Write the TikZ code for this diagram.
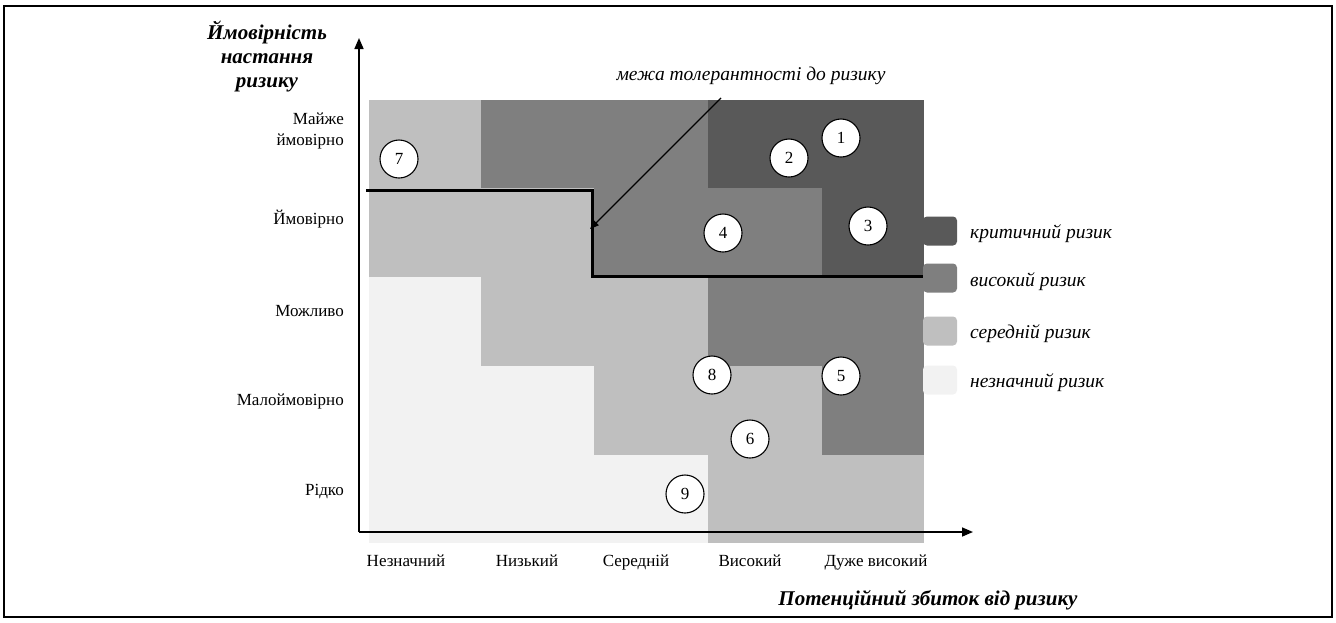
\documentclass[tikz,border=0pt]{standalone}
\usepackage{fontspec}
\setmainfont{Liberation Serif}
\usetikzlibrary{arrows.meta}
\definecolor{crit}{HTML}{595959}
\definecolor{high}{HTML}{7F7F7F}
\definecolor{med}{HTML}{BFBFBF}
\definecolor{low}{HTML}{F2F2F2}
\tikzset{
  num/.style={circle,draw=black,fill=white,line width=1.1pt,minimum size=38pt,inner sep=0pt,font=\fontsize{17}{20}\selectfont},
  lbl/.style={font=\fontsize{17}{20}\selectfont,inner sep=0pt,anchor=base},
  ylbl/.style={font=\fontsize{17}{21}\selectfont,inner sep=0pt,anchor=east,align=right},
  leg/.style={font=\itshape\fontsize{19.5}{22}\selectfont,inner sep=0pt,anchor=west},
  legbox/.style={rounded corners=4pt,draw=none,minimum width=34pt,minimum height=29pt,inner sep=0pt},
  axtitle/.style={font=\bfseries\itshape\fontsize{21}{24}\selectfont,inner sep=0pt,align=center},
  axis/.style={line width=1.6pt,-{Triangle[length=11pt,width=9pt]}},
  tol/.style={line width=3pt},
}
\begin{document}
\begin{tikzpicture}[x=1pt,y=-1pt]
\useasboundingbox (0,0) rectangle (1336,622);
\draw[line width=2pt] (4,6) rectangle (1332,617);
% grid cells
\def\cell#1#2#3#4#5{\fill[#5] (#1,#2) rectangle (#3,#4);}
% row 1
\cell{369}{100}{481}{188}{med}
\cell{481}{100}{708}{188}{high}
\cell{708}{100}{924}{188}{crit}
% row 2
\cell{369}{188}{594}{277}{med}
\cell{594}{188}{822}{277}{high}
\cell{822}{188}{924}{277}{crit}
% row 3
\cell{369}{277}{481}{366}{low}
\cell{481}{277}{708}{366}{med}
\cell{708}{277}{924}{366}{high}
% row 4
\cell{369}{366}{594}{455}{low}
\cell{594}{366}{822}{455}{med}
\cell{822}{366}{924}{455}{high}
% row 5
\cell{369}{455}{708}{543}{low}
\cell{708}{455}{924}{543}{med}
% axes
\coordinate (O) at (359,532);
\coordinate (ytip) at (359,38);
\coordinate (xtip) at (973,532);
\draw[axis] (O) -- (ytip);
\draw[axis] (O) -- (xtip);
% tolerance line
\coordinate (t1) at (366,190);
\coordinate (t2) at (592,190);
\coordinate (t3) at (592,276);
\coordinate (t4) at (923,276);
\draw[tol] (t1) -- (t2) -- (t3) -- (t4);
% tolerance label and arrow
\node[font=\itshape\fontsize{19.5}{22}\selectfont,inner sep=0pt] (tl) at (751,76) {межа толерантності до ризику};
\coordinate (as) at (721,98);
\coordinate (ae) at (590,229);
\draw[line width=1.2pt,-{Triangle[length=9pt,width=7pt]}] (as) -- (ae);
% circles
\node[num] (c1) at (841,138) {1};
\node[num] (c2) at (789,158) {2};
\node[num] (c3) at (868,226) {3};
\node[num] (c4) at (723,233) {4};
\node[num] (c5) at (841,376) {5};
\node[num] (c6) at (750,439) {6};
\node[num] (c7) at (399,159) {7};
\node[num] (c8) at (712,375) {8};
\node[num] (c9) at (685,494) {9};
% y labels
\node[ylbl] (y1) at (344,131) {Майже\\ймовірно};
\node[ylbl] (y2) at (344,219) {Ймовірно};
\node[ylbl] (y3) at (344,311) {Можливо};
\node[ylbl] (y4) at (344,401) {Малоймовірно};
\node[ylbl] (y5) at (344,492) {Рідко};
% x labels
\node[lbl] (x1) at (406,566) {Незначний};
\node[lbl] (x2) at (527,566) {Низький};
\node[lbl] (x3) at (636,566) {Середній};
\node[lbl] (x4) at (750,566) {Високий};
\node[lbl] (x5) at (876,566) {Дуже високий};
% axis titles
\node[axtitle] (yt) at (267,56) {Ймовірність\\настання\\ризику};
\node[axtitle] (xt) at (928,600) {Потенційний збиток від ризику};
% legend
\node[legbox,fill=crit] (l1) at (940,231) {};
\node[legbox,fill=high] (l2) at (940,278) {};
\node[legbox,fill=med] (l3) at (940,331) {};
\node[legbox,fill=low] (l4) at (940,380) {};
\node[leg] (lt1) at (970,234) {критичний ризик};
\node[leg] (lt2) at (970,282) {високий ризик};
\node[leg] (lt3) at (970,334) {середній ризик};
\node[leg] (lt4) at (970,383) {незначний ризик};
\end{tikzpicture}
\end{document}
